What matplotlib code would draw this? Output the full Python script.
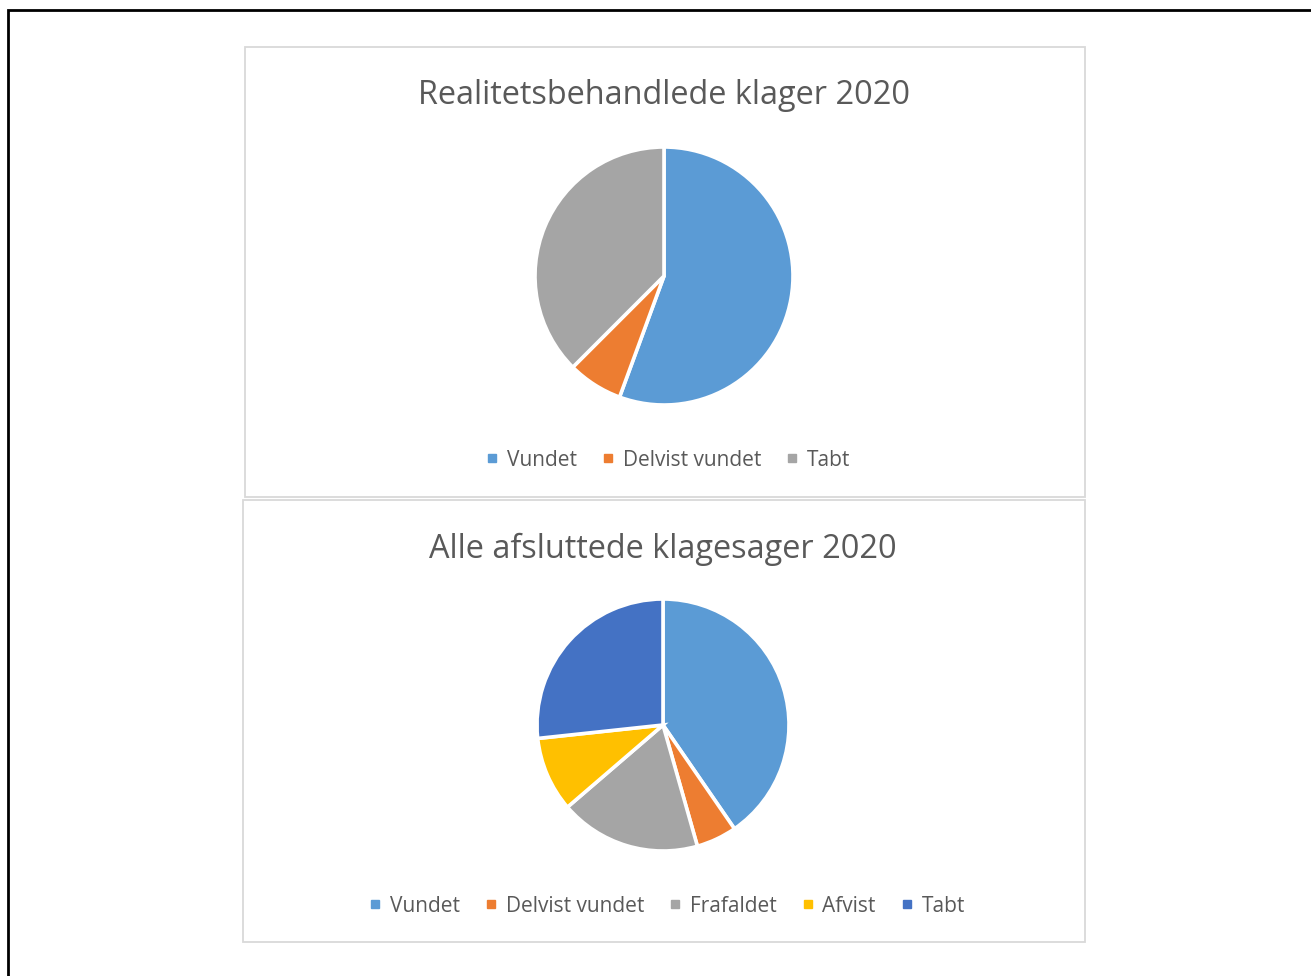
import matplotlib
matplotlib.use("Agg")
import matplotlib.pyplot as plt
from matplotlib.patches import Rectangle
from matplotlib.lines import Line2D

plt.rcParams['font.family'] = ['Open Sans', 'DejaVu Sans']

# data (shares in %)
top_title = "Realitetsbehandlede klager 2020"
top_labels = ["Vundet", "Delvist vundet", "Tabt"]
top_values = [55.6, 6.9, 37.5]
top_colors = ["#5B9BD5", "#ED7D31", "#A5A5A5"]

bot_title = "Alle afsluttede klagesager 2020"
bot_labels = ["Vundet", "Delvist vundet", "Frafaldet", "Afvist", "Tabt"]
bot_values = [40.4, 5.2, 18.1, 9.6, 26.7]
bot_colors = ["#5B9BD5", "#ED7D31", "#A5A5A5", "#FFC000", "#4472C4"]

W, H = 1311, 976
fig = plt.figure(figsize=(W / 100, H / 100), dpi=100)


def px(x, y):
    # pixel coords (top-left origin) -> figure fraction
    return x / W, 1 - y / H


# outer black frame (cut by the image edges)
x0, y0 = px(8, 10)
fig.patches.append(Rectangle((x0, -0.1), 1.2, y0 + 0.1, transform=fig.transFigure,
                             fill=False, edgecolor="black", linewidth=2))


def chart(box, title, title_y, labels, values, colors, center, radius, legend_y):
    bx0, by0, bx1, by1 = box
    lx, ly = px(bx0, by1)
    fig.patches.append(Rectangle((lx, ly), (bx1 - bx0) / W, (by1 - by0) / H,
                                 transform=fig.transFigure, fill=False,
                                 edgecolor="#D9D9D9", linewidth=1.3))
    tx, ty = px(center[0], title_y)
    fig.text(tx, ty, title, ha="center", va="center", fontsize=23.4,
             color="#595959")
    cx, cy = center
    ax = fig.add_axes([(cx - radius) / W, 1 - (cy + radius) / H,
                       2 * radius / W, 2 * radius / H])
    ax.pie(values, colors=colors, startangle=90, counterclock=False,
           wedgeprops=dict(edgecolor="white", linewidth=2.6))
    ax.set_xlim(-1, 1)
    ax.set_ylim(-1, 1)
    ax.set_aspect("equal")
    ax.axis("off")
    handles = [Line2D([], [], marker="s", linestyle="", markersize=6,
                      markerfacecolor=c, markeredgecolor=c) for c in colors]
    lgx, lgy = px(center[0] + 4, legend_y)
    leg = fig.legend(handles, labels, loc="center", bbox_to_anchor=(lgx, lgy),
                     ncol=len(labels), frameon=False, fontsize=15,
                     handlelength=0.6, handletextpad=0.4, columnspacing=1.2)
    for t in leg.get_texts():
        t.set_color("#595959")


chart((245, 47, 1085, 497), top_title, 96, top_labels, top_values, top_colors,
      (664, 276), 129, 460)
chart((243, 500, 1085, 942), bot_title, 549, bot_labels, bot_values, bot_colors,
      (663, 725), 126, 906)

fig.savefig("out.png", dpi=100, facecolor="white")
